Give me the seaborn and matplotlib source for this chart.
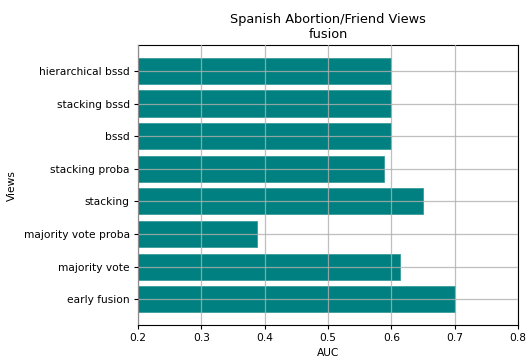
import matplotlib
matplotlib.use("Agg")
import matplotlib.pyplot as plt
import seaborn as sns
import pandas as pd

views = ["hierarchical bssd", "stacking bssd", "bssd", "stacking proba",
         "stacking", "majority vote proba", "majority vote", "early fusion"]
auc = [0.600, 0.600, 0.600, 0.589, 0.650, 0.388, 0.613, 0.700]

df = pd.DataFrame({"Views": views, "AUC": auc})

plt.rcParams["font.family"] = ["DejaVu Sans"]
fig = plt.figure(figsize=(5.27, 3.58), dpi=100)
ax = fig.add_axes([0.262, 0.092, 0.721, 0.782])

sns.barplot(data=df, x="AUC", y="Views", order=views, orient="h",
            color="#008080", saturation=1, width=0.8,
            edgecolor="#3a9a9a", linewidth=0.6, ax=ax, zorder=2)

ax.set_xlim(0.2, 0.8)
ax.set_ylim(len(views) - 0.5 + 0.29, -0.5 - 0.29)
ax.set_xticks([0.2, 0.3, 0.4, 0.5, 0.6, 0.7, 0.8])
ax.set_xticklabels(["0.2", "0.3", "0.4", "0.5", "0.6", "0.7", "0.8"])
ax.grid(True, color="#b0b0b0", linewidth=0.9, alpha=0.8, zorder=3)
ax.set_axisbelow(False)
for s in ax.spines.values():
    s.set_color("black")
    s.set_linewidth(0.8)
ax.tick_params(axis="both", labelsize=7.7, length=3, width=0.8, direction="out", pad=3)
ax.set_xlabel("AUC", fontsize=7.7, labelpad=3)
ax.set_ylabel("Views", fontsize=7.7, labelpad=5)
ax.set_title("Spanish Abortion/Friend Views\nfusion", fontsize=9.3, pad=5)

fig.savefig("out.png", dpi=100)
